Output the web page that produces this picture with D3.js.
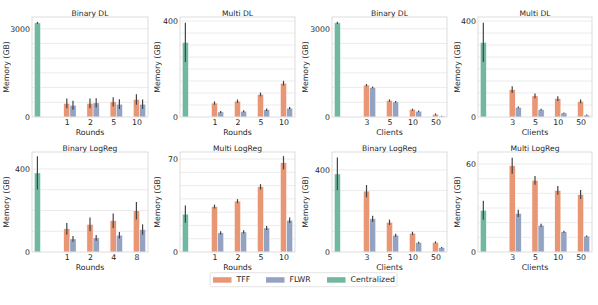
<!DOCTYPE html>
<html>
<head>
<script src="https://cdn.jsdelivr.net/npm/d3@7"></script>
<style>
body { margin: 0; padding: 0; background: #fff; }
svg { font-family: "DejaVu Sans", sans-serif; }
</style>
</head>
<body>
<div id="viz"></div>
<script>

// x categories (position 0 holds the centralized bar, no label)
var roundsDL = ["1", "2", "5", "10"];
var roundsLR = ["1", "2", "4", "8"];
var clients = ["3", "5", "10", "50"];

// memory (GB): means and error half-widths
var binDLRoundsTFF = [460, 465, 515, 595], binDLRoundsTFFErr = [165, 165, 160, 175];
var binDLRoundsFLWR = [400, 480, 435, 435], binDLRoundsFLWRErr = [150, 160, 165, 160];
var multiDLRoundsTFF = [58, 66, 94, 141], multiDLRoundsTFFErr = [7, 7, 8, 10];
var multiDLRoundsFLWR = [21, 24, 30, 37], multiDLRoundsFLWRErr = [4, 4, 5, 5];
var binDLClientsTFF = [1084, 559, 251, 91], binDLClientsTFFErr = [40, 40, 35, 30];
var binDLClientsFLWR = [1004, 513, 194, 28], binDLClientsFLWRErr = [30, 30, 25, 12];
var multiDLClientsTFF = [114, 88, 77, 65], multiDLClientsTFFErr = [14, 10, 10, 8];
var multiDLClientsFLWR = [40, 31, 17, 8], multiDLClientsFLWRErr = [4, 3, 2, 2];

var binLRRoundsTFF = [112, 133, 151, 199], binLRRoundsTFFErr = [28, 33, 35, 42];
var binLRRoundsFLWR = [63, 68, 81, 108], binLRRoundsFLWRErr = [14, 14, 16, 25];
var multiLRRoundsTFF = [34.2, 38.3, 49.1, 67.2], multiLRRoundsTFFErr = [1.5, 1.5, 2, 5];
var multiLRRoundsFLWR = [14.4, 15.1, 18.1, 23.9], multiLRRoundsFLWRErr = [1.2, 1.2, 1.5, 2];
var binLRClientsTFF = [297, 145, 91, 47], binLRClientsTFFErr = [30, 13, 8, 5];
var binLRClientsFLWR = [162, 82, 46, 21], binLRClientsFLWRErr = [15, 7, 4, 3];
var multiLRClientsTFF = [58.8, 48.9, 42, 39.2], multiLRClientsTFFErr = [5.5, 3, 3, 3];
var multiLRClientsFLWR = [26.3, 18.2, 13.8, 10.8], multiLRClientsFLWRErr = [2.5, 1, 0.7, 0.5];

// centralized baseline per task
var centralBinDL = 3200, centralBinDLErr = 35;
var centralMultiDL = 311, centralMultiDLErr = 82;
var centralBinLR = 381, centralBinLRErr = 80;
var centralMultiLR = 28.5, centralMultiLRErr = 6.5;

// y ticks (labelled) and grid step
var yTicksBinDL = [0, 3000], gridBinDL = 500;
var yTicksMultiDL = [0, 400], gridMultiDL = 50;
var yTicksBinLR = [0, 400], gridBinLR = 100;
var yTicksMultiLR70 = [0, 70], yTicksMultiLR60 = [0, 60], gridMultiLR = 10;

var seriesNames = ["TFF", "FLWR", "Centralized"];
var colors = {TFF: "#e99675", FLWR: "#95a3c3", Centralized: "#71b7a1"};

var W = 598, H = 305;
var colLeft = [32, 180, 332, 478], colRight = [148, 295, 447, 592];
var colYLabel = [6.5, 157, 305.5, 457];
var rowTop = [17, 152], rowBottom = [117, 252];

var panels = [
  {r: 0, c: 0, title: "Binary DL", xlab: "Rounds", cats: roundsDL, tff: binDLRoundsTFF, tffE: binDLRoundsTFFErr, fl: binDLRoundsFLWR, flE: binDLRoundsFLWRErr, cen: centralBinDL, cenE: centralBinDLErr, ymax: 3400, ticks: yTicksBinDL, step: gridBinDL},
  {r: 0, c: 1, title: "Multi DL", xlab: "Rounds", cats: roundsDL, tff: multiDLRoundsTFF, tffE: multiDLRoundsTFFErr, fl: multiDLRoundsFLWR, flE: multiDLRoundsFLWRErr, cen: centralMultiDL, cenE: centralMultiDLErr, ymax: 417, ticks: yTicksMultiDL, step: gridMultiDL},
  {r: 0, c: 2, title: "Binary DL", xlab: "Clients", cats: clients, tff: binDLClientsTFF, tffE: binDLClientsTFFErr, fl: binDLClientsFLWR, flE: binDLClientsFLWRErr, cen: centralBinDL, cenE: centralBinDLErr, ymax: 3400, ticks: yTicksBinDL, step: gridBinDL},
  {r: 0, c: 3, title: "Multi DL", xlab: "Clients", cats: clients, tff: multiDLClientsTFF, tffE: multiDLClientsTFFErr, fl: multiDLClientsFLWR, flE: multiDLClientsFLWRErr, cen: centralMultiDL, cenE: centralMultiDLErr, ymax: 417, ticks: yTicksMultiDL, step: gridMultiDL},
  {r: 1, c: 0, title: "Binary LogReg", xlab: "Rounds", cats: roundsLR, tff: binLRRoundsTFF, tffE: binLRRoundsTFFErr, fl: binLRRoundsFLWR, flE: binLRRoundsFLWRErr, cen: centralBinLR, cenE: centralBinLRErr, ymax: 482, ticks: yTicksBinLR, step: gridBinLR},
  {r: 1, c: 1, title: "Multi LogReg", xlab: "Rounds", cats: roundsDL, tff: multiLRRoundsTFF, tffE: multiLRRoundsTFFErr, fl: multiLRRoundsFLWR, flE: multiLRRoundsFLWRErr, cen: centralMultiLR, cenE: centralMultiLRErr, ymax: 75.3, ticks: yTicksMultiLR70, step: gridMultiLR},
  {r: 1, c: 2, title: "Binary LogReg", xlab: "Clients", cats: clients, tff: binLRClientsTFF, tffE: binLRClientsTFFErr, fl: binLRClientsFLWR, flE: binLRClientsFLWRErr, cen: centralBinLR, cenE: centralBinLRErr, ymax: 488, ticks: yTicksBinLR, step: gridBinLR},
  {r: 1, c: 3, title: "Multi LogReg", xlab: "Clients", cats: clients, tff: multiLRClientsTFF, tffE: multiLRClientsTFFErr, fl: multiLRClientsFLWR, flE: multiLRClientsFLWRErr, cen: centralMultiLR, cenE: centralMultiLRErr, ymax: 68.2, ticks: yTicksMultiLR60, step: gridMultiLR}
];

var svg = d3.select("#viz").append("svg")
  .attr("width", W).attr("height", H);

var bw = 0.8 / 3;   // bar width in category units (seaborn dodge with 3 hues)

function drawPanel(p) {
  var left = colLeft[p.c], right = colRight[p.c];
  var top = rowTop[p.r], bottom = rowBottom[p.r];
  var x = d3.scaleLinear().domain([-0.5, 4.5]).range([left, right]);
  var y = d3.scaleLinear().domain([0, p.ymax]).range([bottom, top]);
  var g = svg.append("g");

  // grid
  g.selectAll(".grid").data(d3.range(p.step, p.ymax, p.step))
    .enter().append("line")
    .attr("x1", left).attr("x2", right)
    .attr("y1", y).attr("y2", y)
    .attr("stroke", "#e6e6e6").attr("stroke-width", 0.8);

  // bars: centralized at category 0, TFF/FLWR at categories 1..4
  var bars = [{s: "Centralized", pos: 0 - bw, v: p.cen, e: p.cenE}];
  p.tff.forEach(function(v, i) {
    bars.push({s: "TFF", pos: i + 1, v: v, e: p.tffE[i]});
    bars.push({s: "FLWR", pos: i + 1 + bw, v: p.fl[i], e: p.flE[i]});
  });

  g.selectAll(".bar").data(bars).enter().append("rect")
    .attr("x", function(d) { return x(d.pos - bw / 2); })
    .attr("width", function(d) { return x(bw) - x(0); })
    .attr("y", function(d) { return y(d.v); })
    .attr("height", function(d) { return y(0) - y(d.v); })
    .attr("fill", function(d) { return colors[d.s]; })
    .attr("stroke", "#fff").attr("stroke-width", 0.5);

  g.selectAll(".err").data(bars).enter().append("line")
    .attr("x1", function(d) { return x(d.pos); })
    .attr("x2", function(d) { return x(d.pos); })
    .attr("y1", function(d) { return y(d.v - d.e); })
    .attr("y2", function(d) { return y(d.v + d.e); })
    .attr("stroke", "#444").attr("stroke-width", 1.2);

  // frame
  g.append("rect")
    .attr("x", left).attr("y", top)
    .attr("width", right - left).attr("height", bottom - top)
    .attr("fill", "none").attr("stroke", "#d4d4d4").attr("stroke-width", 0.8);

  // axes
  var ya = g.append("g").attr("transform", "translate(" + left + ",0)")
    .call(d3.axisLeft(y).tickValues(p.ticks).tickSize(0).tickPadding(2).tickFormat(d3.format("d")));
  var xa = g.append("g").attr("transform", "translate(0," + bottom + ")")
    .call(d3.axisBottom(x).tickValues([1, 2, 3, 4]).tickSize(0).tickPadding(2.5)
      .tickFormat(function(d) { return p.cats[d - 1]; }));
  [ya, xa].forEach(function(a) {
    a.select(".domain").remove();
    a.selectAll("text").attr("font-size", 7.8).attr("fill", "#262626")
      .attr("font-family", "DejaVu Sans");
  });

  g.append("text").attr("x", (left + right) / 2).attr("y", top - 1.2)
    .attr("text-anchor", "middle").attr("font-size", 7.6).attr("fill", "#262626")
    .text(p.title);
  g.append("text").attr("x", (left + right) / 2).attr("y", bottom + 17.5)
    .attr("text-anchor", "middle").attr("font-size", 7.8).attr("fill", "#262626")
    .text(p.xlab);
  g.append("text")
    .attr("transform", "translate(" + colYLabel[p.c] + "," + (top + bottom) / 2 + ") rotate(-90)")
    .attr("dy", "0.35em")
    .attr("text-anchor", "middle").attr("font-size", 7.8).attr("fill", "#262626")
    .text("Memory (GB)");
}

panels.forEach(drawPanel);

// legend
var lg = svg.append("g");
lg.append("rect").attr("x", 210).attr("y", 272.7).attr("width", 187).attr("height", 14)
  .attr("rx", 1.5).attr("fill", "#fff").attr("stroke", "#dcdcdc").attr("stroke-width", 0.8);
var legX = [213, 266, 327];
seriesNames.forEach(function(s, i) {
  lg.append("rect").attr("x", legX[i]).attr("y", 277.2).attr("width", 18.5).attr("height", 5.5)
    .attr("fill", colors[s]);
  lg.append("text").attr("x", legX[i] + 23.5).attr("y", 282.4)
    .attr("font-size", 7.8).attr("fill", "#262626").text(s);
});
</script>
</body>
</html>
